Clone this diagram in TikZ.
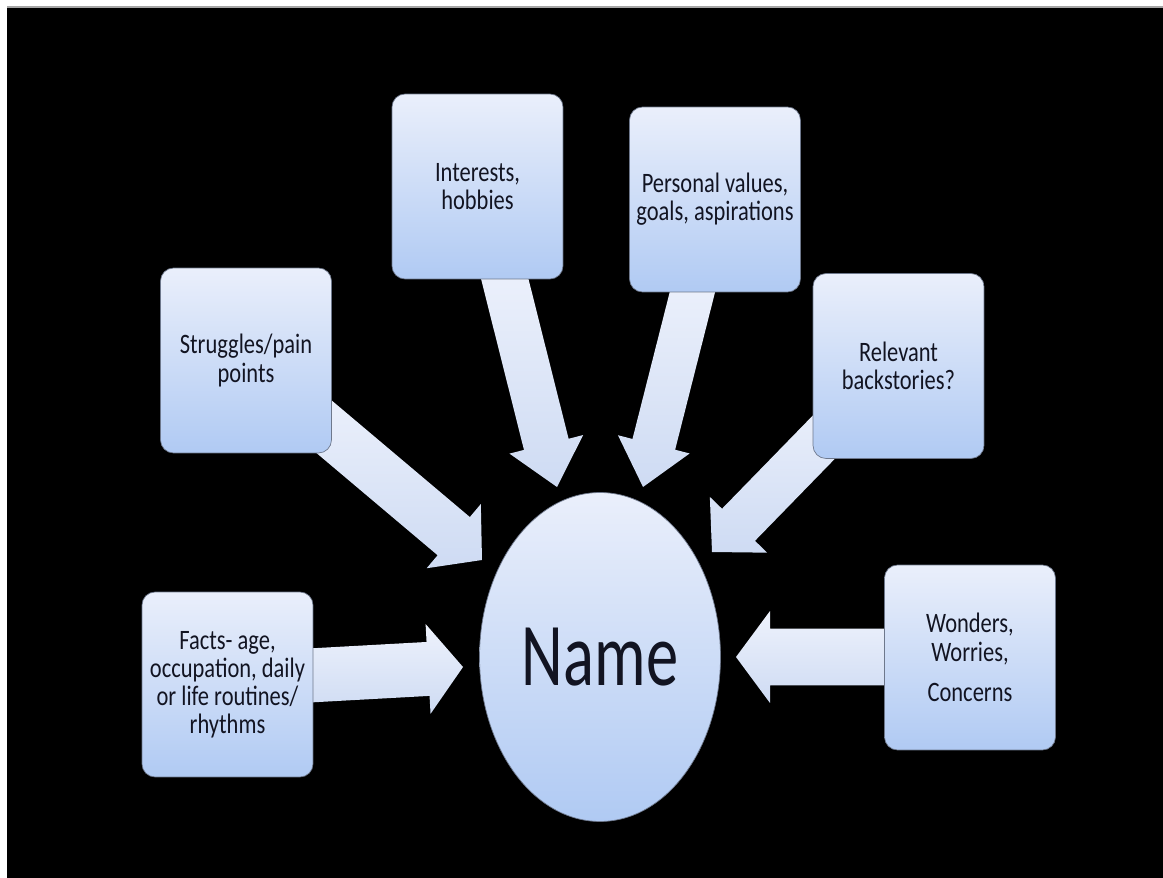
\documentclass[tikz,border=0pt]{standalone}
\usepackage{fontspec}
\setmainfont{Carlito}[FakeStretch=0.8]
\newfontfamily\namefont{Carlito}[FakeStretch=0.72]
\usetikzlibrary{calc,shapes.geometric}
\definecolor{boxtop}{RGB}{234,239,251}
\definecolor{boxbot}{RGB}{176,202,243}
\definecolor{arrtop}{RGB}{238,242,252}
\definecolor{arrbot}{RGB}{206,219,243}
\definecolor{txt}{RGB}{18,20,34}
\definecolor{edge}{RGB}{110,120,140}
\newcommand{\mkblockarrow}[5]{%
  \coordinate (ba-h) at ($(#2)!#5!(#1)$);
  \path[arrowfill] ($(#1)!#3!90:(#2)$) -- ($(ba-h)!#3!-90:(#1)$) -- ($(ba-h)!#4!-90:(#1)$) -- (#2) -- ($(ba-h)!#4!90:(#1)$) -- ($(ba-h)!#3!90:(#1)$) -- ($(#1)!#3!-90:(#2)$) -- cycle;
}
\tikzset{
  box/.style={rectangle, rounded corners=0.26cm, minimum width=3.42cm, minimum height=3.7cm,
    top color=boxtop, bottom color=boxbot, draw=edge, line width=0.4pt,
    text=txt, align=center, font=\fontsize{16}{16}\selectfont, inner sep=2pt},
  arrowfill/.style={top color=arrtop, bottom color=arrbot},
  hub/.style={ellipse, minimum width=4.82cm, minimum height=6.58cm, inner sep=0pt,
    top color=boxtop, bottom color=boxbot, draw=edge, line width=0.4pt,
    text=txt, font=\namefont\fontsize{51}{55}\selectfont}
}
\begin{document}
\begin{tikzpicture}[x=0.02cm,y=-0.02cm]
\useasboundingbox (0,0) rectangle (1163,878);
\fill[white] (0,0) rectangle (1163,878);
\fill[black] (7,7.5) rectangle (1163,878);
\fill[gray!70] (7,6) rectangle (1163,8);

% arrow end points
\coordinate (tFacts) at (300,676);   \coordinate (pFacts) at (463,667);
\coordinate (tWond) at (900,657);    \coordinate (pWond) at (736,657);
\coordinate (tStrug) at (290,398);   \coordinate (pStrug) at (482,560);
\coordinate (tInt) at (500,260);     \coordinate (pInt) at (557,487);
\coordinate (tPers) at (698,270);    \coordinate (pPers) at (643,487);
\coordinate (tRel) at (860,400);     \coordinate (pRel) at (712,552);

\mkblockarrow{tFacts}{pFacts}{0.54cm}{0.9cm}{0.7cm}
\mkblockarrow{tWond}{pWond}{0.57cm}{0.92cm}{0.68cm}
\mkblockarrow{tStrug}{pStrug}{0.5cm}{0.84cm}{0.74cm}
\mkblockarrow{tInt}{pInt}{0.46cm}{0.76cm}{0.88cm}
\mkblockarrow{tPers}{pPers}{0.44cm}{0.74cm}{0.88cm}
\mkblockarrow{tRel}{pRel}{0.46cm}{0.8cm}{0.76cm}

\node[box] (strug) at (246,360.5) {Struggles/pain\\points};
\node[box] (inter) at (477.5,186.5) {Interests,\\hobbies};
\node[box] (pers) at (715,199.5) {Personal values,\\goals, aspirations};
\node[box] (relev) at (898.5,366) {Relevant\\backstories?};
\node[box] (facts) at (227.5,684.5) {Facts- age,\\occupation, daily\\or life routines/\\rhythms};
\node[box] (wond) at (970,657.5) {Wonders,\\Worries,\\[7pt]Concerns};

\node[hub] (name) at (600,657) {Name};
\end{tikzpicture}
\end{document}
